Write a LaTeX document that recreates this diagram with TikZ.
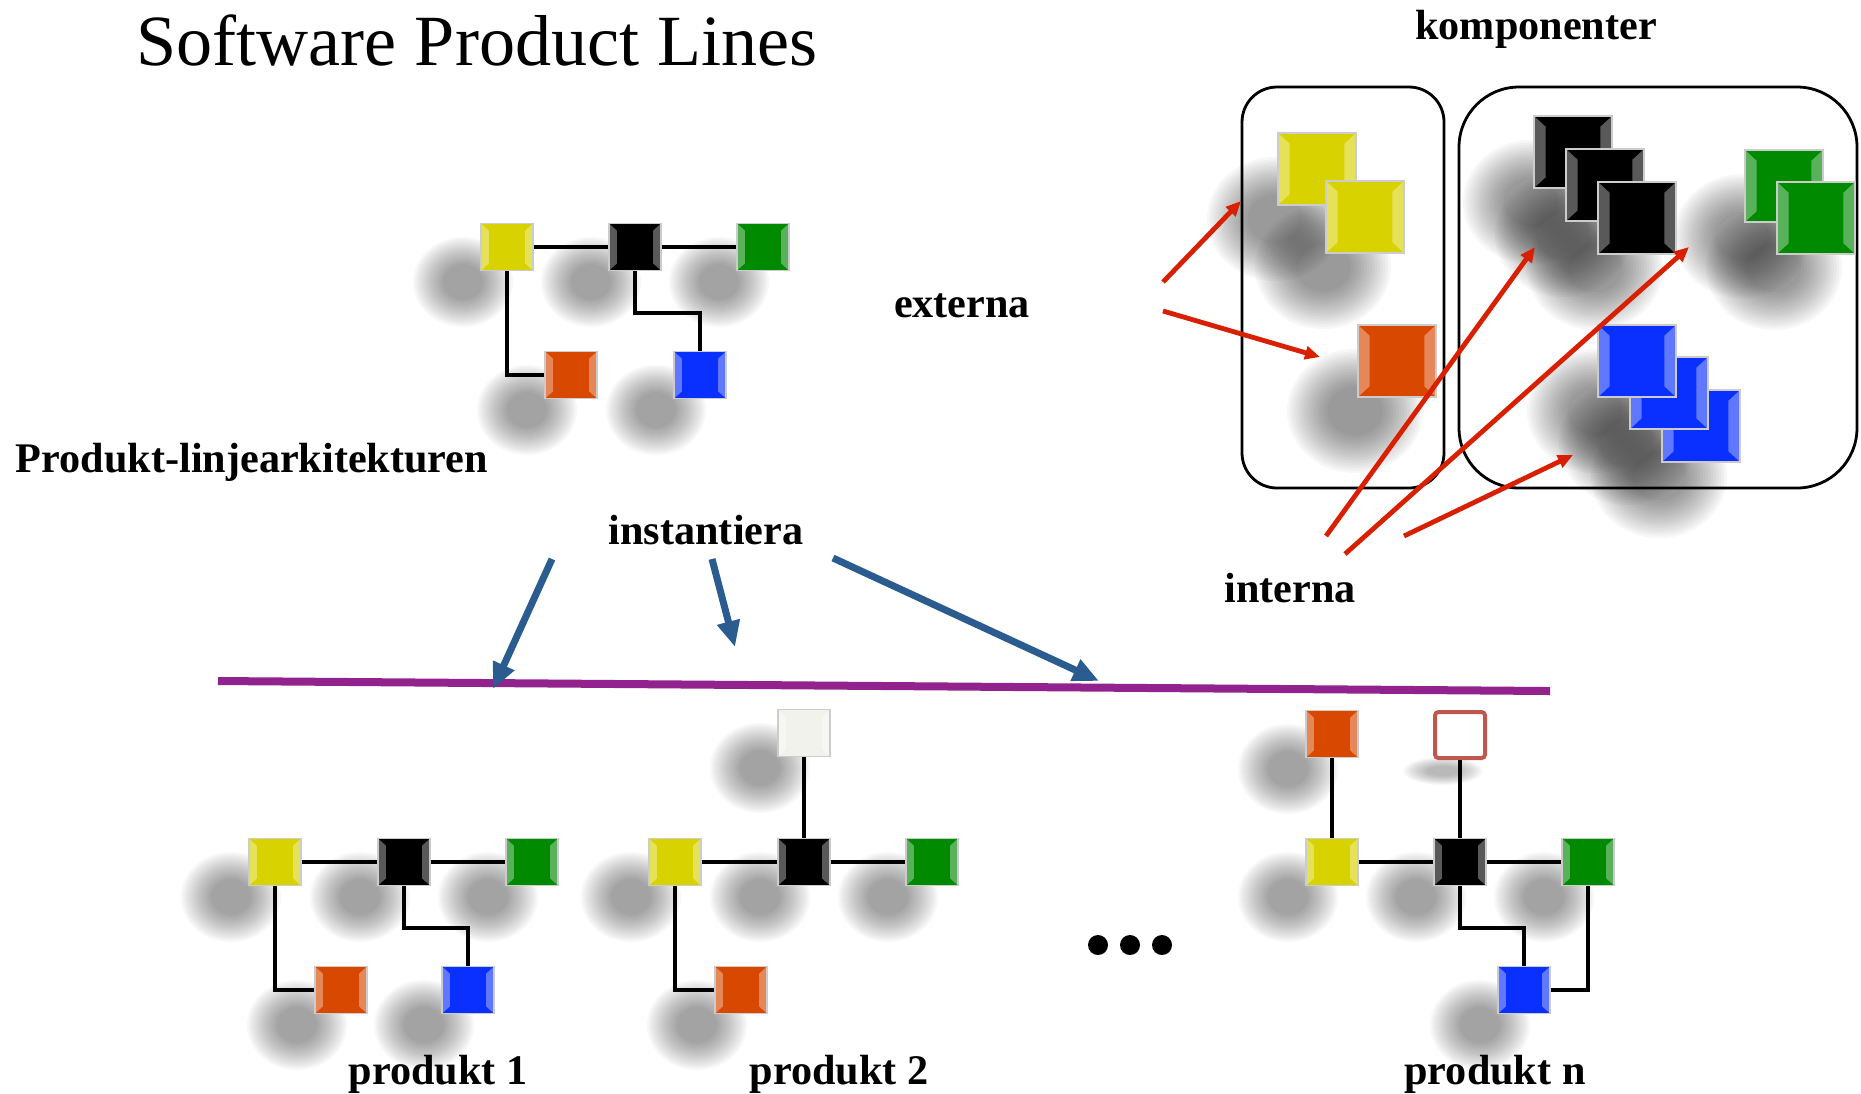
\documentclass[tikz,border=0pt]{standalone}
\usepackage{fontspec}
\setmainfont{Liberation Serif}
\usetikzlibrary{arrows.meta,calc,backgrounds}
\definecolor{sqyellow}{HTML}{D8D200}
\definecolor{sqgreen}{HTML}{008A00}
\definecolor{sqorange}{HTML}{D84800}
\definecolor{sqblue}{HTML}{0A30FF}
\definecolor{sqwhite}{HTML}{F2F2EC}
\definecolor{outlinered}{HTML}{C0574C}
\definecolor{arrred}{HTML}{D82000}
\definecolor{arrblue}{HTML}{2A5C8F}
\definecolor{linepurple}{HTML}{92228E}
\tikzset{
  bevel/.style={path picture={
      \fill[white,opacity=.35] (path picture bounding box.north west)
        -- ($(path picture bounding box.north west)!.15!(path picture bounding box.south east)$)
        -- ($(path picture bounding box.south west)!.15!(path picture bounding box.north east)$)
        -- (path picture bounding box.south west) -- cycle;
      \fill[white,opacity=.35] (path picture bounding box.north east)
        -- ($(path picture bounding box.north east)!.15!(path picture bounding box.south west)$)
        -- ($(path picture bounding box.south east)!.15!(path picture bounding box.north west)$)
        -- (path picture bounding box.south east) -- cycle;
    }},
  blob/.style={fill=black,opacity=.028},
  block/.style={rectangle,inner sep=0pt,fill=#1,draw=black!20,line width=0.4pt,bevel},
  sq/.style={block=#1,minimum width=0.52cm,minimum height=0.47cm},
  bigsq/.style={block=#1,minimum width=0.78cm,minimum height=0.72cm},
  emptysq/.style={rectangle,inner sep=0pt,minimum width=0.5cm,minimum height=0.46cm,fill=white,
    draw=outlinered,line width=0.04cm,rounded corners=1pt},
  wire/.style={line width=0.045cm},
  lbl/.style={font=\fontsize{12pt}{14pt}\selectfont\bfseries,inner sep=0pt,anchor=base},
  redarr/.style={arrred,line width=0.048cm,-{Triangle[length=0.15cm,width=0.13cm]}},
  bluearr/.style={arrblue,line width=0.07cm,-{Triangle[length=0.26cm,width=0.22cm]}},
}
\begin{document}
\begin{tikzpicture}[x=0.01cm,y=-0.01cm]
\useasboundingbox (0,0) rectangle (1861,1093);

\node[font=\fontsize{20.5pt}{24pt}\selectfont,inner sep=0pt,anchor=base] (title) at (477,65) {Software Product Lines};
\node[lbl] (komp) at (1536,39) {komponenter};
\node[lbl] (arch) at (252,472) {Produkt-linjearkitekturen};
\node[lbl] (ext) at (962,317) {externa};
\node[lbl] (inst) at (706,544) {instantiera};
\node[lbl] (int) at (1290,602) {interna};
\node[lbl] (p1) at (438,1084) {produkt 1};
\node[lbl] (p2) at (839,1084) {produkt 2};
\node[lbl] (pn) at (1495,1084) {produkt n};

% arkitekturen
\node[sq=sqyellow] (ay) at (507,247) {};
\node[sq=black] (ak) at (635,247) {};
\node[sq=sqgreen] (ag) at (763,247) {};
\node[sq=sqorange] (ao) at (571,375) {};
\node[sq=sqblue] (ab) at (700,375) {};
\draw[wire] (ay) -- (ak) -- (ag) (ay) |- (ao) (ak.south) -- ++(0,42) -| (ab);

% komponenter
\draw[line width=0.028cm,rounded corners=0.35cm] (1242,87) rectangle (1444,488);
\draw[line width=0.028cm,rounded corners=0.6cm] (1459,87) rectangle (1857,488);
\node[bigsq=sqyellow] (cy1) at (1317,169) {};
\node[bigsq=sqyellow] (cy2) at (1365,217) {};
\node[bigsq=sqorange] (co) at (1397,361) {};
\node[bigsq=black] (ck1) at (1573,152) {};
\node[bigsq=black] (ck2) at (1605,185) {};
\node[bigsq=black] (ck3) at (1637,218) {};
\node[bigsq=sqgreen] (cg1) at (1784,186) {};
\node[bigsq=sqgreen] (cg2) at (1816,218) {};
\node[bigsq=sqblue] (cb3) at (1701,426) {};
\node[bigsq=sqblue] (cb2) at (1669,393) {};
\node[bigsq=sqblue] (cb1) at (1637,361) {};

\coordinate (ext1) at (1163,282);  \coordinate (ext1tip) at (1241,201);
\coordinate (ext2) at (1163,311);  \coordinate (ext2tip) at (1320,357);
\coordinate (int1) at (1326,536);  \coordinate (int1tip) at (1535,247);
\coordinate (int2) at (1345,554);  \coordinate (int2tip) at (1689,247);
\coordinate (int3) at (1404,536);  \coordinate (int3tip) at (1573,455);
\draw[redarr] (ext1) -- (ext1tip);
\draw[redarr] (ext2) -- (ext2tip);
\draw[redarr] (int1) -- (int1tip);
\draw[redarr] (int2) -- (int2tip);
\draw[redarr] (int3) -- (int3tip);

% instantiera
\coordinate (lineL) at (218,681);  \coordinate (lineR) at (1550,691);
\draw[linepurple,line width=0.08cm] (lineL) -- (lineR);
\coordinate (inst1) at (552,559);  \coordinate (inst1tip) at (493,689);
\coordinate (inst2) at (712,559);  \coordinate (inst2tip) at (735,647);
\coordinate (inst3) at (833,558);  \coordinate (inst3tip) at (1099,681);
\draw[bluearr] (inst1) -- (inst1tip);
\draw[bluearr] (inst2) -- (inst2tip);
\draw[bluearr] (inst3) -- (inst3tip);

% produkt 1
\node[sq=sqyellow] (ay1) at (275,862) {};
\node[sq=black] (ak1) at (404,862) {};
\node[sq=sqgreen] (ag1) at (532,862) {};
\node[sq=sqorange] (ao1) at (341,990) {};
\node[sq=sqblue] (ab1) at (468,990) {};
\draw[wire] (ay1) -- (ak1) -- (ag1) (ay1) |- (ao1) (ak1.south) -- ++(0,42) -| (ab1);

% produkt 2
\node[sq=sqwhite] (aw2) at (804,733) {};
\node[sq=sqyellow] (ay2) at (675,862) {};
\node[sq=black] (ak2) at (804,862) {};
\node[sq=sqgreen] (ag2) at (932,862) {};
\node[sq=sqorange] (ao2) at (741,990) {};
\draw[wire] (ay2) -- (ak2) -- (ag2) (aw2) -- (ak2) (ay2) |- (ao2);

\foreach \i in {0,1,2}
  \fill (1098+32*\i,945) circle (0.1cm);

% produkt n
\node[sq=sqorange] (aon) at (1332,734) {};
\node[emptysq] (awn) at (1460,735) {};
\node[sq=sqyellow] (ayn) at (1332,862) {};
\node[sq=black] (akn) at (1460,862) {};
\node[sq=sqgreen] (agn) at (1588,862) {};
\node[sq=sqblue] (abn) at (1524,990) {};
\draw[wire] (aon) -- (ayn) (ayn) -- (akn) -- (agn) (awn) -- (akn)
  (akn.south) -- ++(0,42) -| (abn) (agn) |- (abn);

% skuggor
\begin{scope}[on background layer]
  \foreach \n in {ay,ak,ag,ao,ab,ay1,ak1,ag1,ao1,ab1,aw2,ay2,ak2,ag2,ao2,aon,ayn,akn,agn,abn}
    \foreach \k in {0,...,15}
      \fill[blob] ($(\n)+(-44,35)$) ellipse [x radius=0.5cm-0.02cm*\k, y radius=0.45cm-0.018cm*\k];
  \foreach \n in {cy1,cy2,co,ck1,ck2,ck3,cg1,cg2,cb1,cb2,cb3}
    \foreach \k in {0,...,15}
      \fill[blob,opacity=.032] ($(\n)+(-42,50)$) ellipse [x radius=0.68cm-0.027cm*\k, y radius=0.62cm-0.025cm*\k];
  \foreach \k in {0,...,15}
    \fill[blob,opacity=.02] ($(awn)+(-17,36)$) ellipse [x radius=0.4cm-0.016cm*\k, y radius=0.14cm-0.006cm*\k];
\end{scope}
\end{tikzpicture}
\end{document}
